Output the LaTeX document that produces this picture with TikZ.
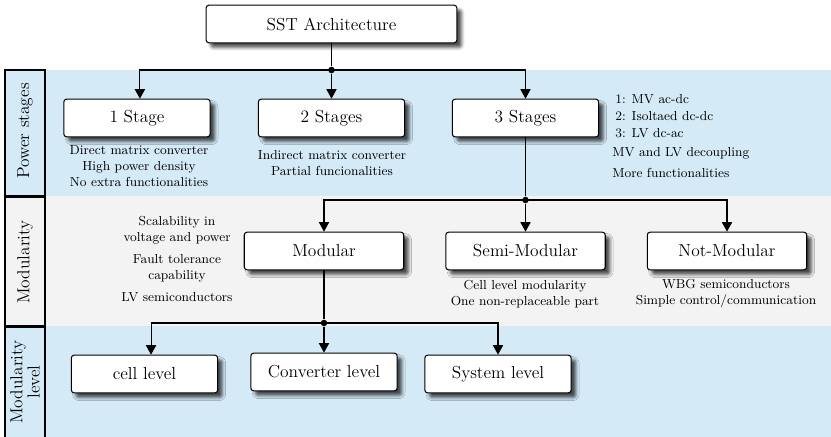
\documentclass[tikz,border=0pt]{standalone}
\usetikzlibrary{arrows.meta,shadows.blur}
\definecolor{bandblue}{RGB}{212,234,246}
\definecolor{bandgray}{RGB}{243,243,243}
\tikzset{
  block/.style={draw, line width=0.7pt, rounded corners=2pt, fill=white,
    minimum width=101pt, minimum height=26pt, font=\large,
    blur shadow={shadow xshift=3.2pt, shadow yshift=-3.2pt,
      shadow blur radius=2.2pt, shadow opacity=70}},
  note/.style={font=\small, align=center, inner sep=0pt},
  arr/.style={line width=0.7pt, -{Triangle[length=6.5pt,width=7pt]}},
  link/.style={line width=0.7pt},
  junction/.style={circle, fill=black, inner sep=0pt, minimum size=4.5pt},
  rowlabel/.style={font=\large, rotate=90, align=center},
  cell/.style={draw, line width=0.7pt},
}
\begin{document}
\begin{tikzpicture}[x=0.6897pt,y=-0.6897pt]
\useasboundingbox (0,0) rectangle (831,437);

% background bands of the three rows
\fill[bandblue] (5,70) rectangle (831,196.5);
\fill[bandgray] (5,196.5) rectangle (831,326.5);
\fill[bandblue] (5,326.5) rectangle (831,437);

% row header cells
\draw[cell] (5,70) rectangle (45,196);
\draw[cell] (5,197) rectangle (45,326);
\draw[cell] (5,327) rectangle (45,440);
\node[rowlabel] (lab1) at (25,131) {Power stages};
\node[rowlabel] (lab2) at (25,262) {Modularity};
\node[rowlabel] (lab3) at (25,382) {Modularity\\[-2pt]level};

% blocks
\node[block, minimum width=173pt] (sst) at (331.5,24) {SST Architecture};
\node[block] (s1) at (137,118) {1 Stage};
\node[block] (s2) at (331.5,118) {2 Stages};
\node[block] (s3) at (525.5,118) {3 Stages};
\node[block, minimum width=110pt] (mod) at (324,251) {Modular};
\node[block, minimum width=110pt] (semi) at (525.5,251) {Semi-Modular};
\node[block, minimum width=110pt] (notm) at (727,251) {Not-Modular};
\node[block] (cell) at (144.5,374) {cell level};
\node[block] (conv) at (324,372) {Converter level};
\node[block] (sys) at (498,374) {System level};

% branch points
\node[junction] (j1) at (331.5,70) {};
\node[junction] (j2) at (525.5,200) {};
\node[junction] (j3) at (324,323) {};

% connectors
\draw[link] (sst) -- (j1);
\draw[arr] (j1.center) -| ([xshift=2pt]s1.north);
\draw[arr] (j1) -- (s2);
\draw[arr] (j1.center) -| (s3.north);

\draw[link] (s3) -- (j2);
\draw[arr] (j2.center) -| (mod.north);
\draw[arr] (j2) -- (semi);
\draw[arr] (j2.center) -| (notm.north);

\draw[link] (mod) -- (j3);
\draw[arr] (j3.center) -| ([xshift=4.5pt]cell.north);
\draw[arr] (j3) -- (conv);
\draw[arr] (j3.center) -| (sys.north);

% annotations
\node[note] (n1) at (139,166) {Direct matrix converter\\High power density\\No extra functionalities};
\node[note] (n2) at (332,163) {Indirect matrix converter\\Partial funcionalities};
\node[note, anchor=west, align=left] (n3) at (615,116) {1: MV ac-dc\\[0.6pt]2: Isoltaed dc-dc\\[0.6pt]3: LV dc-ac};
\node[note, anchor=west] (n4) at (612,153) {MV and LV decoupling};
\node[note, anchor=west] (n5) at (612,173) {More functionalities};
\node[note] (n6) at (177,230.5) {Scalability in\\voltage and power};
\node[note] (n7) at (177,268) {Fault tolerance\\capability};
\node[note] (n8) at (177,297) {LV semiconductors};
\node[note] (n9) at (525,294) {Cell level modularity\\One non-replaceable part};
\node[note] (n10) at (726,294) {WBG semiconductors\\Simple control/communication};
\end{tikzpicture}
\end{document}
